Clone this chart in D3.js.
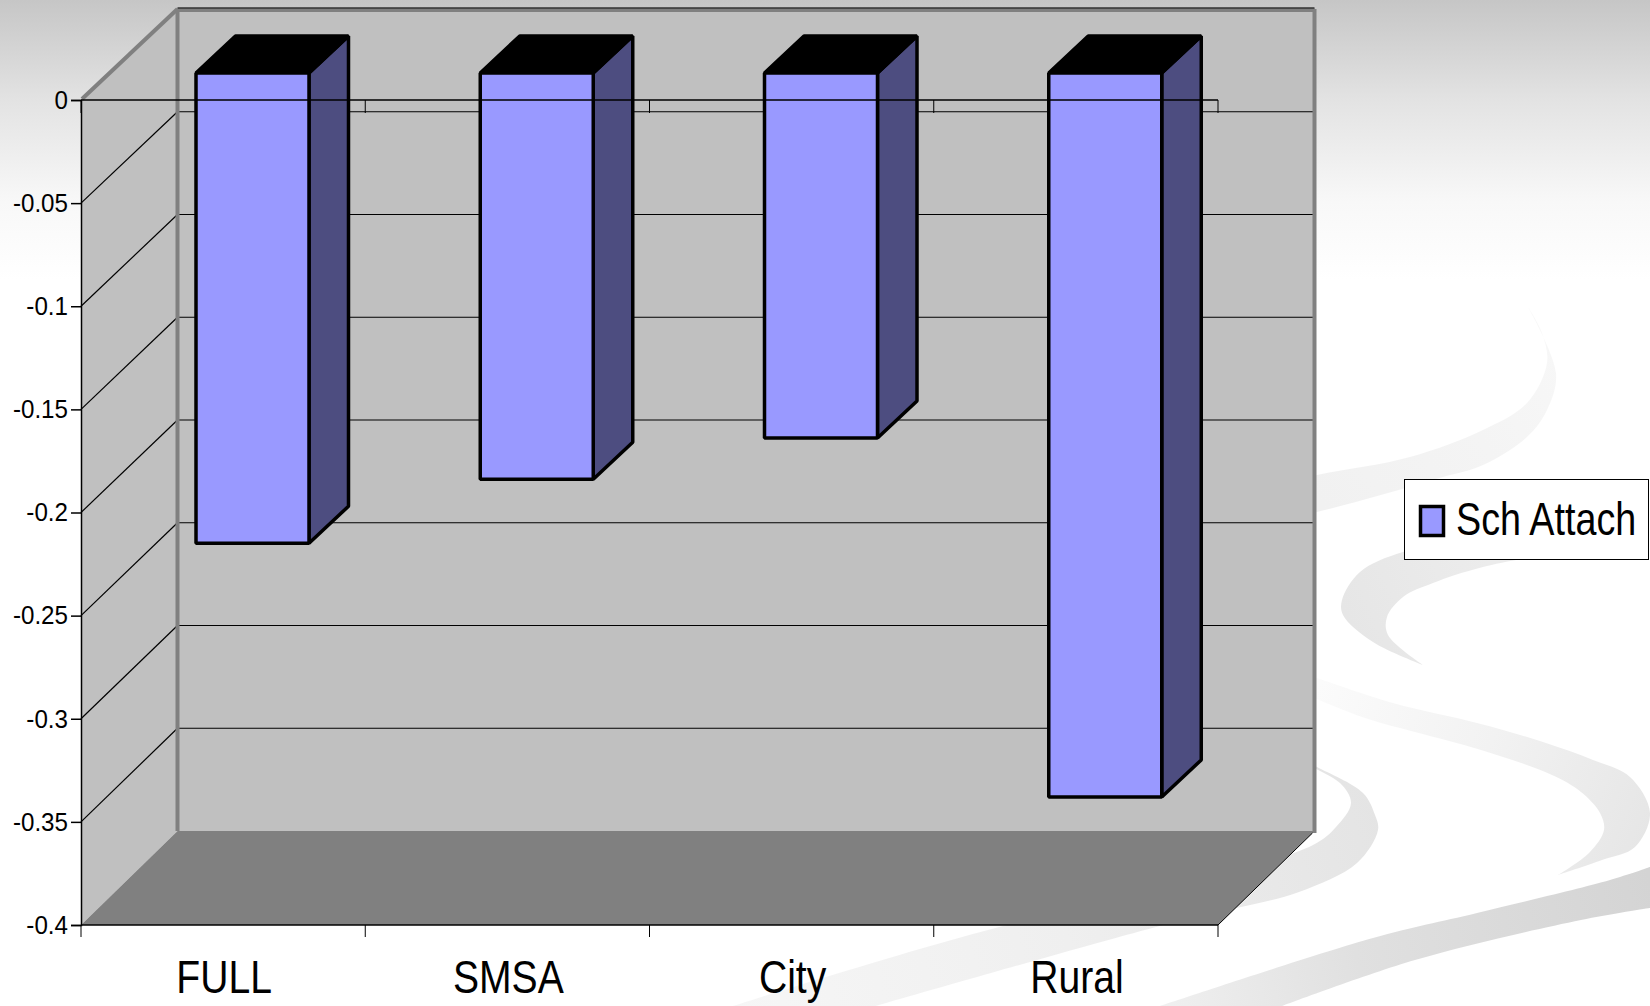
<!DOCTYPE html>
<html><head><meta charset="utf-8">
<script src="https://cdn.jsdelivr.net/npm/d3@7"></script>
<style>html,body{margin:0;padding:0;background:#fff;overflow:hidden}svg{display:block}
text{font-family:"Liberation Sans",sans-serif;fill:#000}</style>
</head><body><svg id="c" width="1650" height="1006"></svg>
<script>
const categories = ["FULL","SMSA","City","Rural"];
const seriesName = "Sch Attach";
const schAttach = [-0.228,-0.197,-0.177,-0.351];
const yTicks = [0,-0.05,-0.1,-0.15,-0.2,-0.25,-0.3,-0.35,-0.4];
const yTickLabels = ["0","-0.05","-0.1","-0.15","-0.2","-0.25","-0.3","-0.35","-0.4"];

const svg = d3.select("#c");
const defs = svg.append("defs");
function grad(id,x1,y1,x2,y2,stops){
  const g = defs.append("linearGradient").attr("id",id).attr("gradientUnits","userSpaceOnUse")
    .attr("x1",x1).attr("y1",y1).attr("x2",x2).attr("y2",y2);
  stops.forEach(s=>g.append("stop").attr("offset",s[0]).attr("stop-color",s[1]));
}
grad("bg",0,0,0,280,[[0,"#c6c6c6"],[.36,"#e3e3e3"],[.72,"#f8f8f8"],[1,"#ffffff"]]);
grad("sA",1317,500,1550,340,[[0,"#f1f1f1"],[.6,"#f4f4f4"],[1,"#f7f7f7"]]);
grad("sB",1340,600,1480,540,[[0,"#e6e6e6"],[1,"#ececec"]]);
grad("sC",1317,690,1650,830,[[0,"#fbfbfb"],[.5,"#f2f2f2"],[1,"#e6e6e6"]]);
grad("sD",733,1006,1378,800,[[0,"#f6f6f6"],[.5,"#efefef"],[1,"#e4e4e4"]]);
grad("sE",1160,1006,1650,880,[[0,"#f0f0f0"],[.4,"#e0e0e0"],[1,"#d4d4d4"]]);

svg.append("rect").attr("width",1650).attr("height",1006).attr("fill","url(#bg)");

// decorative background swooshes
const curve = d3.line().curve(d3.curveCatmullRom.alpha(.5));
const swooshes = [
 ["sA",[[1528,307],[1542,333],[1547,363],[1527,403],[1483,430],[1410,457],[1317,475],[1250,490]],
       [[1250,525],[1317,512],[1443,477],[1483,465],[1527,437],[1547,410],[1556,373],[1528,307]]],
 ["sB",[[1600,525],[1500,535],[1403,552],[1360,572],[1342,600],[1343,615],[1373,642],[1423,665]],
       [[1423,665],[1388,635],[1387,617],[1403,597],[1433,583],[1483,567],[1600,545]]],
 ["sC",[[1300,672],[1393,703],[1477,723],[1543,742],[1593,760],[1630,777],[1650,813],[1635,847],[1602,860],[1558,875]],
       [[1558,875],[1589,853],[1604,830],[1600,813],[1581,792],[1552,775],[1481,750],[1415,732],[1365,718],[1300,692]]],
 ["sD",[[1300,762],[1340,783],[1351,803],[1336,827],[1313,845],[1160,890],[1003,926],[839,973],[733,1006]],
       [[876,1006],[1160,926],[1241,907],[1299,892],[1357,863],[1378,830],[1375,815],[1363,793],[1317,767],[1300,758]]],
 ["sE",[[1650,867],[1610,880],[1477,913],[1373,938],[1160,1006]],
       [[1282,1006],[1415,960],[1581,920],[1650,908]]]
];
swooshes.forEach(([f,a,b])=>{
  svg.append("path").attr("fill",`url(#${f})`).attr("d",curve(a)+"L"+curve(b).slice(1)+"Z");
});

// scales: front plane and back wall
const y = d3.scaleLinear().domain([0,-0.4]).range([100,925]);
const yBack = d3.scaleLinear().domain([0,-0.4]).range([9,831]);
const x = d3.scaleBand().domain(categories).range([81,1218]).paddingInner(0).paddingOuter(0);
const wallDx = 96.5;                    // depth of the chart box
const barDx = 39.5, barDy = -37;        // depth of a bar
const barOffX = 115, barW = 113, barOffY = -27;
const narrow = .82, narrowCat = .85;

const frontL = x.range()[0], frontR = x.range()[1], y0 = y(0), yB = y(-0.4);
const bTop = yBack(0), bBot = yBack(-0.4);
const pts = a=>a.map(p=>p.join(",")).join(" ");
// side wall, back wall, floor
svg.append("polygon").attr("fill","#c0c0c0").attr("points",pts([[frontL,y0],[frontL+wallDx,bTop],[frontL+wallDx,bBot],[frontL,yB]]));
svg.append("rect").attr("fill","#c0c0c0").attr("x",frontL+wallDx).attr("y",bTop).attr("width",frontR-frontL).attr("height",bBot-bTop);
svg.append("polygon").attr("fill","#808080").attr("points",pts([[frontL,yB],[frontL+wallDx,bBot],[frontR+wallDx,bBot],[frontR,yB]]));

// gridlines
const grid = svg.append("g").attr("stroke","#000").attr("stroke-width",1.2).attr("fill","none");
yTicks.slice(1,-1).forEach(t=>{
  grid.append("line").attr("x1",frontL).attr("y1",y(t)).attr("x2",frontL+wallDx).attr("y2",yBack(t));
  grid.append("line").attr("x1",frontL+wallDx).attr("y1",yBack(t)).attr("x2",frontR+wallDx).attr("y2",yBack(t));
});

// wall borders
const wb = svg.append("g").attr("stroke","#808080").attr("stroke-width",4).attr("fill","none");
wb.append("line").attr("x1",frontL+1).attr("y1",y0-1).attr("x2",frontL+wallDx).attr("y2",bTop);
wb.append("line").attr("x1",frontL+wallDx).attr("y1",bTop).attr("x2",frontL+wallDx).attr("y2",bBot);
wb.append("line").attr("x1",frontL+wallDx).attr("y1",bTop+1).attr("x2",frontR+wallDx).attr("y2",bTop+1);
wb.append("line").attr("x1",frontR+wallDx).attr("y1",bTop).attr("x2",frontR+wallDx).attr("y2",bBot+2);
svg.append("line").attr("stroke","#333").attr("stroke-width",1.5).attr("x1",frontL+wallDx).attr("y1",bTop-1).attr("x2",frontR+wallDx).attr("y2",bTop-1);
svg.append("line").attr("stroke","#000").attr("stroke-width",1).attr("x1",frontR).attr("y1",yB).attr("x2",frontR+wallDx-2).attr("y2",bBot+2);

// bars
const bars = svg.append("g").selectAll("g").data(categories.map((c,i)=>({c,v:schAttach[i]}))).join("g")
  .attr("stroke","#000").attr("stroke-width",3.5).attr("stroke-linejoin","bevel");
bars.each(function(d){
  const g = d3.select(this);
  const l = x(d.c)+barOffX, r = l+barW, t = y(0)+barOffY, b = y(d.v)+barOffY;
  g.append("polygon").attr("fill","#4d4d80").attr("points",pts([[r,t],[r+barDx,t+barDy],[r+barDx,b+barDy],[r,b]]));
  g.append("polygon").attr("fill","#000").attr("points",pts([[l,t],[l+barDx,t+barDy],[r+barDx,t+barDy],[r,t]]));
  g.append("rect").attr("fill","#9999ff").attr("x",l).attr("y",t).attr("width",barW).attr("height",b-t);
});

// axes
const yAxis = d3.axisLeft(y).tickValues(yTicks).tickFormat((d,i)=>yTickLabels[i]).tickSize(10).tickPadding(3);
const ya = svg.append("g").attr("transform",`translate(${frontL},0)`).call(yAxis);
ya.select(".domain").attr("stroke","#000").attr("stroke-width",1.5);
ya.selectAll("line").attr("stroke","#000").attr("stroke-width",1.5);
ya.selectAll("text").attr("font-size",26).attr("fill","#000").attr("x",0)
  .attr("transform","translate(-13,0) scale(.93,1)")
  .style("font-family",'"Liberation Sans",sans-serif');

const tickX = categories.map(c=>x(c)).concat([frontR]);
const xa = svg.append("g").attr("stroke","#000");
xa.append("line").attr("x1",frontL).attr("x2",frontR).attr("y1",yB).attr("y2",yB).attr("stroke-width",1.5);
xa.append("line").attr("x1",frontL).attr("x2",frontR).attr("y1",y0).attr("y2",y0).attr("stroke-width",1.5);
xa.selectAll(".b").data(tickX).join("line").attr("x1",d=>d).attr("x2",d=>d).attr("y1",yB).attr("y2",yB+12).attr("stroke-width",1);
xa.selectAll(".t").data(tickX).join("line").attr("x1",d=>d).attr("x2",d=>d).attr("y1",y0).attr("y2",y0+13).attr("stroke-width",1);

svg.append("g").selectAll("text").data(categories).join("text")
  .attr("transform",d=>`translate(${x(d)+x.bandwidth()/2+1},993) scale(${narrowCat},1)`)
  .attr("text-anchor","middle").attr("font-size",46).text(d=>d);

// legend
const lg = svg.append("g");
lg.append("rect").attr("x",1404.5).attr("y",479.5).attr("width",244).attr("height",80).attr("fill","#fff").attr("stroke","#000").attr("stroke-width",1);
lg.append("rect").attr("x",1420.5).attr("y",506.5).attr("width",23).attr("height",29).attr("fill","#9999ff").attr("stroke","#000").attr("stroke-width",3.5);
lg.append("text").attr("transform",`translate(1456,535) scale(${narrow},1)`).attr("font-size",46).text(seriesName);
</script></body></html>
